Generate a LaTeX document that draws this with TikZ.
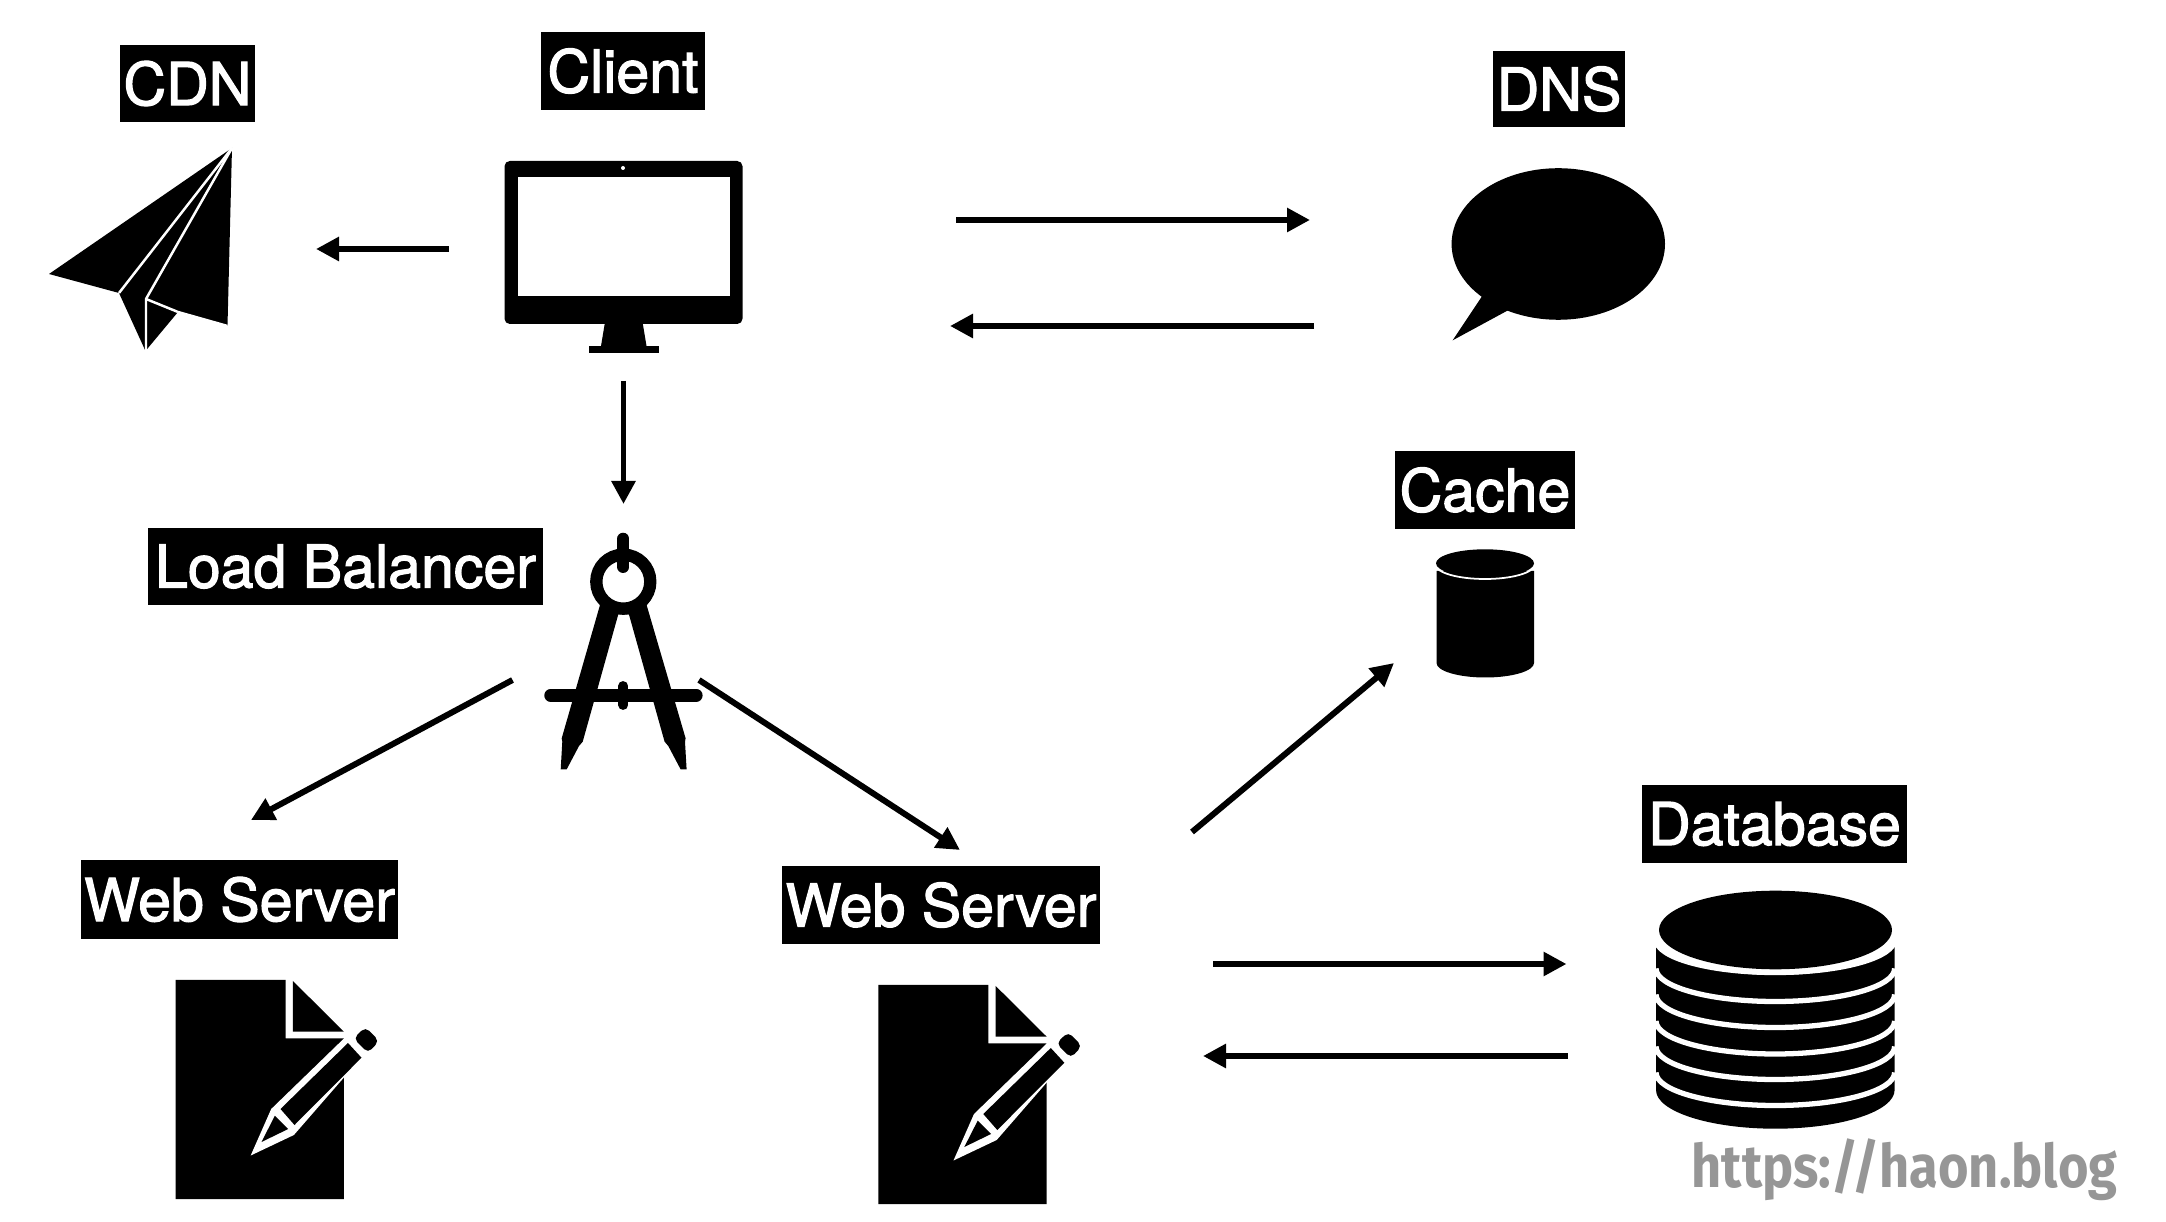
\documentclass[tikz,border=0pt]{standalone}
\usepackage{fontspec}
\setmainfont{TeX Gyre Heros}[FakeBold=2]
\newfontfamily\jelfont{Fira Sans Bold}[FakeStretch=0.875]
\usetikzlibrary{arrows.meta}
\definecolor{jelszin}{HTML}{969696}
\tikzset{
  cimke/.style={fill=black,text=white,inner sep=0pt,font=\fontsize{16.8}{20}\selectfont},
  nyil/.style={line width=1.7pt,-{Triangle[length=2.3mm,width=2.3mm]}},
  feher/.style={draw=white,line join=miter},
  lap/.pic={
    \fill (0,0) -- (110,0) -- (110,58.3) -- (168.4,58.3) -- (168.4,219) -- (0,219) -- cycle;
    \fill (117.4,1) -- (168.4,51.7) -- (117.4,51.7) -- cycle;
    \fill[white] (75.2,175.5) -- (95.7,129) -- (171,56) -- (188,75) -- (118.4,155) -- cycle;
    \fill (105,129) -- (172.5,63) -- (186,77.7) -- (119,145) -- cycle;
    \fill (99.4,135.7) -- (112.7,149) -- (86,162) -- cycle;
    \fill[rounded corners=1.5pt] (178,58.3) -- (190,47) -- (203.7,61) -- (192.5,73) -- cycle;
  },
}
\begin{document}
\begin{tikzpicture}[x=0.01cm,y=-0.01cm]
  \useasboundingbox (0,0) rectangle (2166,1222);
  % labels
  \node[cimke,minimum width=134.5mm/10,minimum height=76.5mm/10] (cdn) at (187.5,83.5) {CDN};
  \node[cimke,minimum width=164.5mm/10,minimum height=78mm/10] (client) at (623,71) {Client};
  \node[cimke,minimum width=131.5mm/10,minimum height=76mm/10] (dns) at (1559,89) {DNS};
  \node[cimke,minimum width=180mm/10,minimum height=78mm/10] (cache) at (1485,490) {Cache};
  \node[cimke,minimum width=395mm/10,minimum height=77mm/10] (lb) at (345.5,566.5) {Load Balancer};
  \node[cimke,minimum width=316.5mm/10,minimum height=78mm/10] (webA) at (239.5,899.5) {Web Server};
  \node[cimke,minimum width=317.6mm/10,minimum height=77.5mm/10] (webB) at (941,905) {Web Server};
  \node[cimke,minimum width=264mm/10,minimum height=78mm/10] (db) at (1774.5,824) {Database};
  \node[text=jelszin,inner sep=0pt,font=\jelfont\fontsize{17}{20}\selectfont] (jel) at (1904.5,1170) {https://haon.blog};

  % plane
  \fill (232,148) -- (49,274) -- (119,293) -- (145.5,351) -- (178,312) -- (227.5,326) -- cycle;
  \draw[feher,line width=0.7pt] (232,148) -- (119,293);
  \draw[feher,line width=0.7pt] (232,148) -- (146,299) -- (146,351);
  \draw[feher,line width=0.7pt] (146,299) -- (178,312);
  \draw[feher,line width=0.7pt] (178,312) -- (227.5,326);

  % monitor
  \fill[rounded corners=1.5pt] (504.5,161) rectangle (742.5,324);
  \fill[white] (517.5,177) rectangle (729.5,296);
  \fill[white] (623,168) circle[radius=2];
  \fill (605,322) -- (642.5,322) -- (646.5,346) -- (601,346) -- cycle;
  \fill (588.5,346) rectangle (658.5,353);

  % bubble
  \fill (1558.3,244) ellipse[x radius=106.7,y radius=75.8];
  \fill (1481.7,296.7) -- (1452.7,340.3) -- (1507.3,310.7) -- (1530,290) -- cycle;

  % compass
  \draw[line width=3.5pt] (623.3,581.7) circle[radius=27];
  \draw[line width=3.4pt,line cap=round] (623.3,538.7) -- (623.3,567);
  \fill (600,605) -- (561.7,738.3) -- (562.3,741.7) -- (560.7,769.3) -- (566.7,769.3) -- (579,746) -- (582.7,741.7) -- (618.3,614.3) -- (628.9,614.3) -- (664.6,741.7) -- (668.3,746) -- (680.6,769.3) -- (686.6,769.3) -- (685,741.7) -- (685.6,738.3) -- (646.6,605) -- cycle;
  \draw[line width=3.6pt,line cap=round] (550.6,695.3) -- (696.3,695.3);
  \draw[line width=2.8pt,line cap=round] (623.3,686) -- (623.3,705);

  % pages
  \pic at (175.5,980) {lap};
  \pic at (878.3,985) {lap};

  % cache
  \fill (1436.5,571) -- (1436.5,663) arc[start angle=180,end angle=0,x radius=48.75,y radius=14.5] -- (1534,571) -- cycle;
  \draw[feher,line width=0.5pt] (1436,565) arc[start angle=180,end angle=0,x radius=49,y radius=14];
  \fill (1485,563.3) ellipse[x radius=49,y radius=14];

  % database
  \fill (1656,941) -- (1656,1090) arc[start angle=180,end angle=0,x radius=119.3,y radius=38.7] -- (1894.6,941) -- cycle;
  \foreach \yy in {972.5,1001.5,1027.5,1054,1079.5,1105.5}
    \draw[feher,line width=1.5pt] (1656,\yy-33) arc[start angle=180,end angle=0,x radius=119.3,y radius=33];
  \fill[white] (1775.5,932) ellipse[x radius=122,y radius=43];
  \fill (1775.5,930) ellipse[x radius=116.5,y radius=39.3];

  % arrow ends
  \coordinate (clientW) at (449,249);
  \coordinate (cdnE) at (316,249);
  \coordinate (clientE) at (956,220);
  \coordinate (dnsW) at (1310,220);
  \coordinate (dnsSW) at (1314,326);
  \coordinate (clientSE) at (950,326);
  \coordinate (clientS) at (623.5,381);
  \coordinate (lbN) at (623.5,504);
  \coordinate (lbW) at (512.5,680);
  \coordinate (webAN) at (251,820);
  \coordinate (lbE) at (699,680);
  \coordinate (webBN) at (960,850);
  \coordinate (webBNE) at (1192,832);
  \coordinate (cacheSW) at (1394,663);
  \coordinate (webBE) at (1213,964);
  \coordinate (dbW) at (1566.5,964);
  \coordinate (dbSW) at (1568,1056);
  \coordinate (webBSE) at (1203,1056);

  \draw[nyil] (clientW) -- (cdnE);
  \draw[nyil] (clientE) -- (dnsW);
  \draw[nyil] (dnsSW) -- (clientSE);
  \draw[nyil] (clientS) -- (lbN);
  \draw[nyil] (lbW) -- (webAN);
  \draw[nyil] (lbE) -- (webBN);
  \draw[nyil] (webBNE) -- (cacheSW);
  \draw[nyil] (webBE) -- (dbW);
  \draw[nyil] (dbSW) -- (webBSE);
\end{tikzpicture}
\end{document}
